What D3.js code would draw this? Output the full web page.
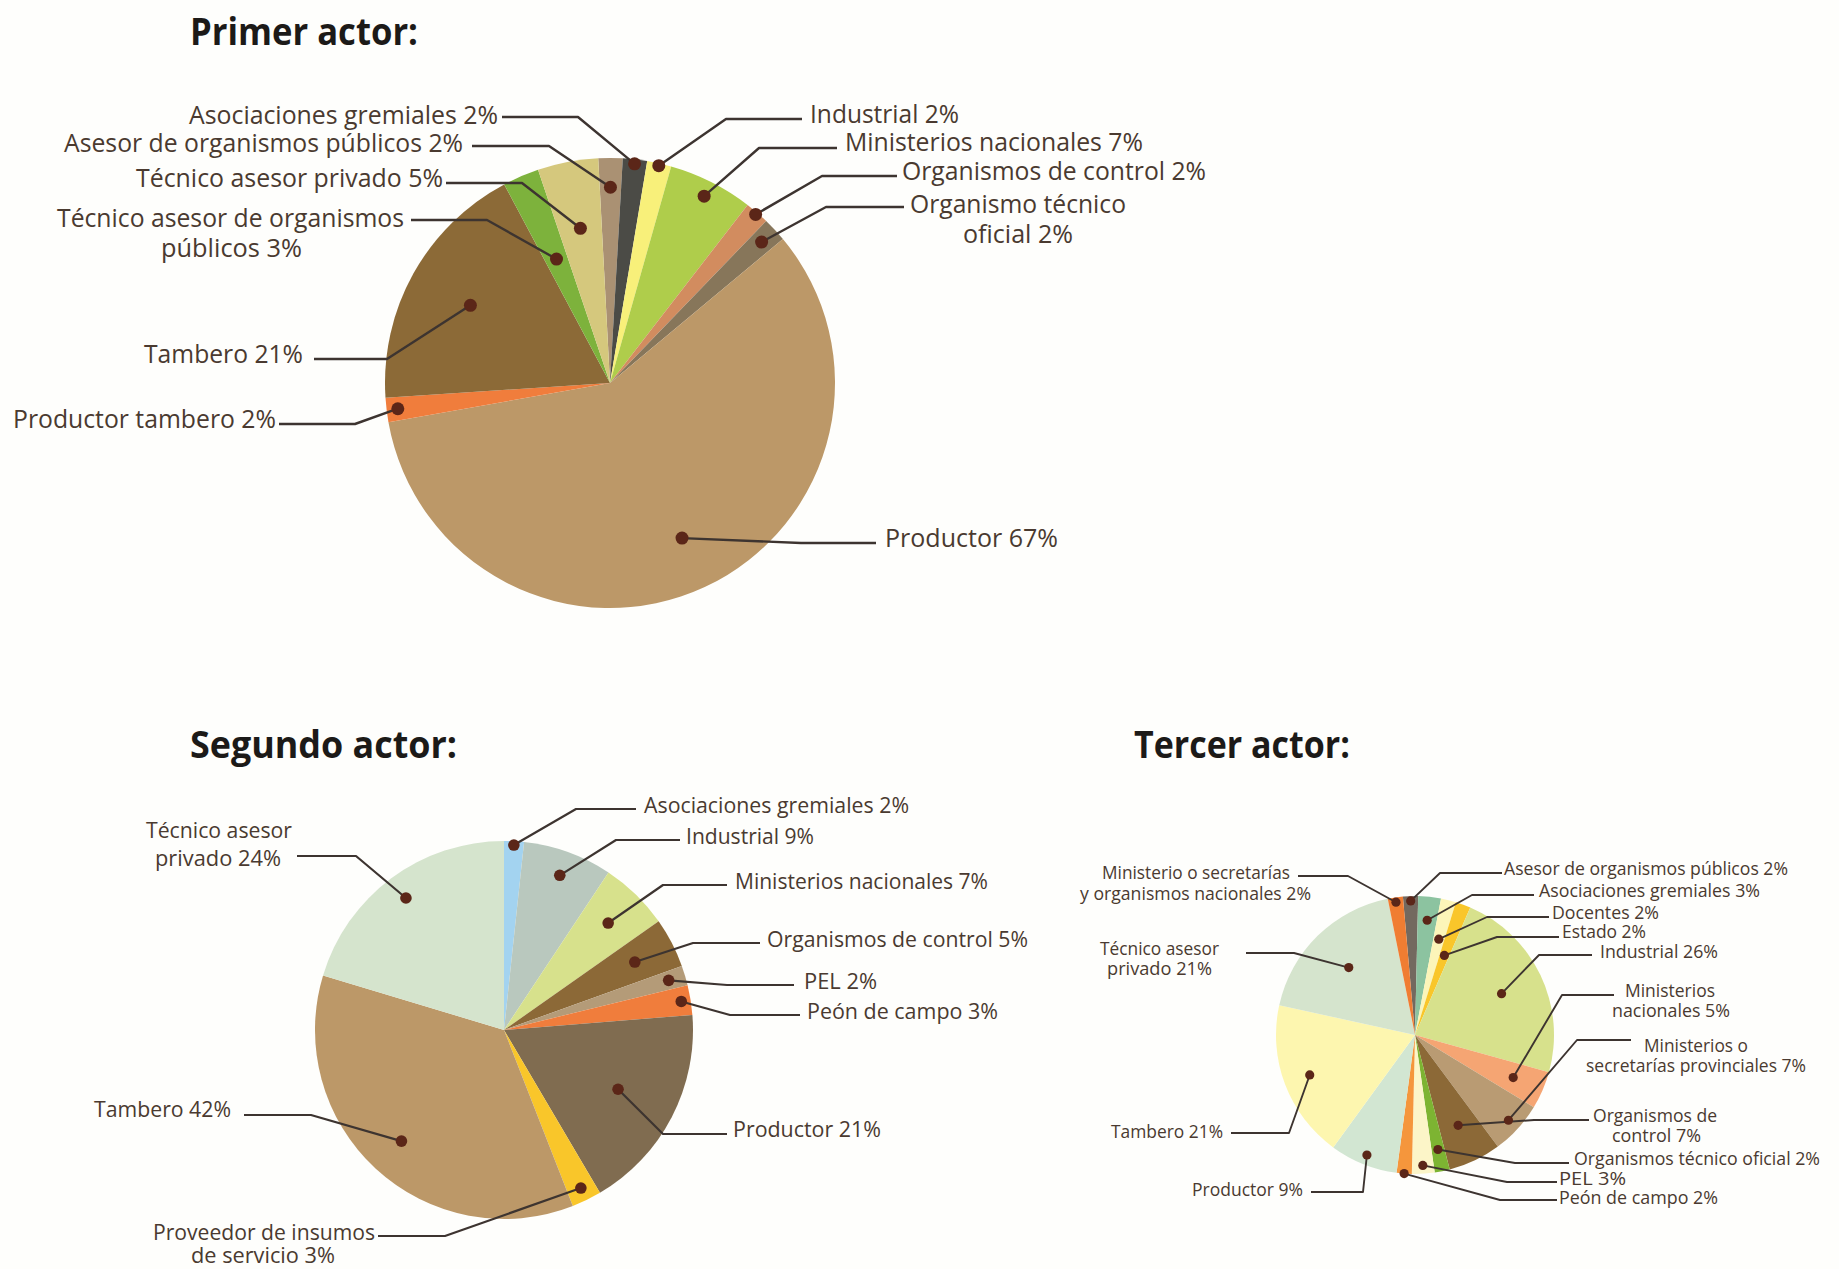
<!DOCTYPE html>
<html>
<head>
<meta charset="utf-8">
<script src="https://cdn.jsdelivr.net/npm/d3@7"></script>
<style>
  html, body { margin: 0; padding: 0; background: #fefefc; }
  svg { display: block; }
</style>
</head>
<body>
<svg id="chart" width="1839" height="1269"></svg>
<script>
// ---- Data -------------------------------------------------------------
const titles = ["Primer actor:", "Segundo actor:", "Tercer actor:"];

const primerNames = [
  "Asesor de organismos públicos", "Asociaciones gremiales", "Industrial",
  "Ministerios nacionales", "Organismos de control", "Organismo técnico\noficial",
  "Productor", "Productor tambero", "Tambero",
  "Técnico asesor de organismos\npúblicos", "Técnico asesor privado"
];
const primerValues = [2, 2, 2, 7, 2, 2, 67, 2, 21, 3, 5];

const segundoNames = [
  "Asociaciones gremiales", "Industrial", "Ministerios nacionales",
  "Organismos de control", "PEL", "Peón de campo", "Productor",
  "Proveedor de insumos\nde servicio", "Tambero", "Técnico asesor\nprivado"
];
const segundoValues = [2, 9, 7, 5, 2, 3, 21, 3, 42, 24];

const tercerNames = [
  "Asesor de organismos públicos", "Asociaciones gremiales", "Docentes", "Estado",
  "Industrial", "Ministerios\nnacionales", "Ministerios o\nsecretarías provinciales",
  "Organismos de\ncontrol", "Organismos técnico oficial", "PEL", "Peón de campo",
  "Productor", "Tambero", "Técnico asesor\nprivado",
  "Ministerio o secretarías\ny organismos nacionales"
];
const tercerValues = [2, 3, 2, 2, 26, 5, 7, 7, 2, 3, 2, 9, 21, 21, 2];

// ---- Slice colours ----------------------------------------------------
const primerColors = ["#aa9173", "#4b4b46", "#f8f07a", "#afcd4b", "#d28c5f", "#87765a",
                      "#bc9868", "#f07d3c", "#8c6a37", "#7db23c", "#d5c87d"];
const segundoColors = ["#a3d3f0", "#b9c8be", "#d7e18c", "#8c6937", "#b49b78", "#f07d3c",
                       "#806c50", "#f9c62a", "#bc9868", "#d5e4cd"];
const tercerColors = ["#73695f", "#8cc3a0", "#fcf5b9", "#f9c62a", "#d7e18c", "#f5a573",
                      "#b99b73", "#8c6937", "#7db432", "#fcf5c8", "#f5963c", "#d2e6d2",
                      "#fdf6af", "#d5e4cd", "#f07d32"];

// ---- Label layout (callout text, elbow segment, dot radius fraction) ---
const primerLayout = [
  {f: 0.87, seg: [[472, 146], [549, 146]], text: [[64, 152, 399]]},
  {f: 0.98, seg: [[502, 117], [578, 117]], text: [[189, 124, 309]]},
  {f: 0.99, seg: [[802, 119], [726, 119]], text: [[810, 123, 149]]},
  {f: 0.93, seg: [[837, 148], [759, 148]], text: [[845, 151, 298]]},
  {f: 0.99, seg: [[897, 176], [822, 176]], text: [[902, 180, 304]]},
  {f: 0.92, seg: [[904, 207], [826, 207]], text: [[910, 213, 216], [963, 243, 110]]},
  {f: 0.76, seg: [[876, 543], [801, 543]], text: [[885, 547, 173]]},
  {f: 0.95, seg: [[279, 424], [355, 424]], text: [[13, 428, 263]]},
  {f: 0.71, seg: [[314, 359], [387, 359]], text: [[144, 363, 159]]},
  {f: 0.60, seg: [[411, 220], [487, 220]], text: [[57, 227, 347], [161, 257, 141]]},
  {f: 0.70, seg: [[446, 183], [522, 183]], text: [[136, 187, 307]]}
];
const segundoLayout = [
  {f: 0.98, seg: [[636, 809], [576, 809]], text: [[644, 813, 265]]},
  {f: 0.87, seg: [[680, 840], [616, 840]], text: [[686, 844, 128]]},
  {f: 0.79, seg: [[727, 885], [663, 885]], text: [[735, 889, 253]]},
  {f: 0.78, seg: [[760, 943], [693, 943]], text: [[767, 947, 261]]},
  {f: 0.91, seg: [[794, 985], [727, 985]], text: [[804, 989, 73]]},
  {f: 0.95, seg: [[800, 1015], [730, 1015]], text: [[807, 1019, 191]]},
  {f: 0.68, seg: [[727, 1134], [663, 1134]], text: [[733, 1137, 148]]},
  {f: 0.93, seg: [[378, 1236], [445, 1236]], text: [[153, 1240, 222], [191, 1263, 144]]},
  {f: 0.80, seg: [[244, 1115], [311, 1115]], text: [[94, 1117, 137]]},
  {f: 0.87, seg: [[297, 856], [356, 856]], text: [[146, 838, 146], [155, 866, 126]]}
];
const tercerLayout = [
  {f: 0.965, seg: [[1502, 873], [1440, 873]], text: [[1504, 875, 284]]},
  {f: 0.83, seg: [[1534, 895], [1472, 895]], text: [[1539, 897, 221]]},
  {f: 0.71, seg: [[1549, 917], [1487, 917]], text: [[1552, 919, 107]]},
  {f: 0.61, seg: [[1559, 937], [1497, 937]], text: [[1562, 938, 84]]},
  {f: 0.69, seg: [[1592, 955], [1539, 955]], text: [[1600, 958, 118]]},
  {f: 0.77, seg: [[1614, 995], [1562, 995]], text: [[1625, 997, 90], [1612, 1017, 118]]},
  {f: 0.91, seg: [[1631, 1040], [1577, 1040]], text: [[1644, 1052, 104], [1586, 1072, 220]]},
  {f: 0.72, seg: [[1589, 1120], [1534, 1120]], text: [[1593, 1122, 124], [1612, 1142, 89]]},
  {f: 0.84, seg: [[1569, 1163], [1515, 1163]], text: [[1574, 1165, 246]]},
  {f: 0.94, seg: [[1557, 1182], [1507, 1182]], text: [[1559, 1185, 67]]},
  {f: 1.0, seg: [[1557, 1200], [1500, 1200]], text: [[1559, 1204, 159]]},
  {f: 0.93, seg: [[1311, 1192], [1363, 1192]], text: [[1192, 1196, 111]]},
  {f: 0.81, seg: [[1231, 1133], [1289, 1133]], text: [[1111, 1138, 112]]},
  {f: 0.68, seg: [[1246, 953], [1294, 953]], text: [[1100, 955, 119], [1107, 975, 105]]},
  {f: 0.965, seg: [[1298, 876], [1348, 876]], text: [[1102, 879, 188], [1080, 900, 231]]}
];

// ---- Drawing ----------------------------------------------------------
const svg = d3.select("#chart");
svg.append("rect").attr("width", 1839).attr("height", 1269).attr("fill", "#fefefc");

const deg = Math.PI / 180;
const FONT = "'Open Sans', 'Noto Sans', sans-serif";

const titlePos = [[190, 45, 228], [190, 758, 267], [1134, 758, 216]];
svg.selectAll("text.title").data(titles).join("text")
  .attr("class", "title")
  .attr("x", (d, i) => titlePos[i][0])
  .attr("y", (d, i) => titlePos[i][1])
  .attr("textLength", (d, i) => titlePos[i][2])
  .attr("lengthAdjust", "spacingAndGlyphs")
  .attr("font-family", FONT)
  .attr("font-weight", 700)
  .attr("font-size", 38)
  .attr("fill", "#1c1a18")
  .text(d => d);

function drawPie(cfg) {
  const data = cfg.names.map((name, i) => ({
    name, value: cfg.values[i], color: cfg.colors[i], lay: cfg.layout[i]
  }));
  const pie = d3.pie()
    .sort(null)
    .value(d => d.value)
    .startAngle(cfg.start)
    .endAngle(cfg.start + 2 * Math.PI);
  const arcs = pie(data);
  const arc = d3.arc().innerRadius(0).outerRadius(cfg.r);

  const g = svg.append("g");
  g.append("g")
    .attr("transform", `translate(${cfg.cx},${cfg.cy})`)
    .selectAll("path").data(arcs).join("path")
    .attr("d", arc)
    .attr("fill", d => d.data.color);

  // callout dot sits on the slice's bisector
  arcs.forEach(a => {
    const mid = (a.startAngle + a.endAngle) / 2;
    const rr = a.data.lay.f * cfg.r;
    a.dot = [cfg.cx + rr * Math.sin(mid), cfg.cy - rr * Math.cos(mid)];
  });

  g.append("g").selectAll("polyline").data(arcs).join("polyline")
    .attr("points", d => [d.data.lay.seg[0], d.data.lay.seg[1], d.dot].map(p => p.join(",")).join(" "))
    .attr("fill", "none")
    .attr("stroke", "#3d3430")
    .attr("stroke-width", cfg.lineW)
    .attr("stroke-linejoin", "round");

  g.append("g").selectAll("circle").data(arcs).join("circle")
    .attr("cx", d => d.dot[0])
    .attr("cy", d => d.dot[1])
    .attr("r", cfg.dotR)
    .attr("fill", "#5b2618");

  // one text element per callout; wrapped lines become tspans
  const labels = g.append("g")
    .attr("font-family", FONT)
    .attr("font-size", cfg.fontSize)
    .attr("fill", "#4a3a30");
  arcs.forEach(a => {
    const lines = (a.data.name + " " + a.data.value + "%").split("\n");
    const text = labels.append("text");
    lines.forEach((line, j) => {
      const t = a.data.lay.text[j];
      text.append("tspan")
        .attr("x", t[0])
        .attr("y", t[1])
        .attr("textLength", t[2])
        .attr("lengthAdjust", "spacingAndGlyphs")
        .text(line);
    });
  });
}

drawPie({names: primerNames, values: primerValues, colors: primerColors, layout: primerLayout,
         cx: 610, cy: 383, r: 225, start: -3 * deg, fontSize: 25, dotR: 6.5, lineW: 2.4});
drawPie({names: segundoNames, values: segundoValues, colors: segundoColors, layout: segundoLayout,
         cx: 504, cy: 1030, r: 189, start: 0, fontSize: 21.5, dotR: 5.8, lineW: 2.2});
drawPie({names: tercerNames, values: tercerValues, colors: tercerColors, layout: tercerLayout,
         cx: 1415, cy: 1035, r: 139, start: -5 * deg, fontSize: 17.5, dotR: 4.6, lineW: 1.9});
</script>
</body>
</html>
